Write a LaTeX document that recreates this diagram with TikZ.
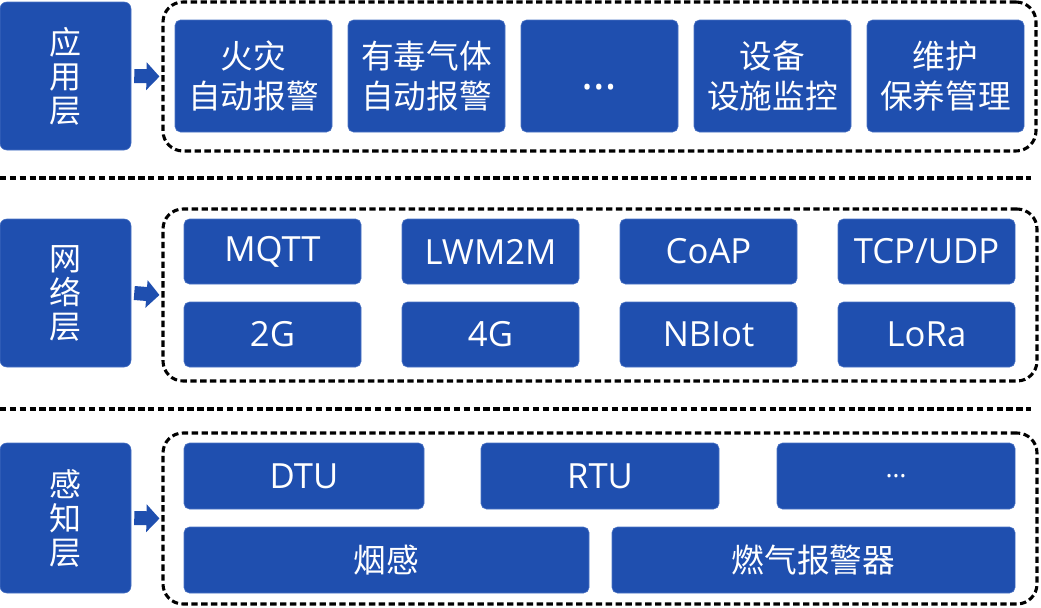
\documentclass[tikz,border=0pt]{standalone}
\usepackage{fontspec}
\setmainfont{Open Sans}
\newfontfamily\cjk{Noto Sans CJK SC}
\usetikzlibrary{arrows.meta}
\definecolor{boxblue}{HTML}{1F4FAF}
\definecolor{boxedge}{HTML}{4A73C4}
\newcommand\bx[7]{\node[bluebox,#6,minimum width={(#4-#2)*0.75pt},minimum height={(#5-#3)*0.75pt}] (#1) at ({(#2+#4)/2},{(#3+#5)/2}) {#7};}
\begin{document}
\begin{tikzpicture}[x=0.75pt,y=-0.75pt,
  bluebox/.style={fill=boxblue,draw=boxedge,line width=0.4pt,rounded corners=4pt,text=white,align=center,inner sep=0pt},
  layerbox/.style={rounded corners=5pt,font=\cjk\fontsize{24}{25.5}\selectfont},
  cjkbox/.style={font=\cjk\fontsize{24.5}{30}\selectfont},
  latinbox/.style={font=\fontsize{26}{30}\selectfont},
  container/.style={draw=black,line width=2.3pt,dash pattern=on 4.8pt off 2.6pt,rounded corners=15pt},
  sepline/.style={draw=black,line width=2.3pt,dash pattern=on 4.8pt off 2.6pt},
  flow/.style={draw=boxblue,line width=10.5pt,-{Triangle[length=9.75pt,width=20.25pt]}}]
\useasboundingbox (0,0) rectangle (1041,607);

% layer boxes
\bx{app}{0}{2}{131}{150}{layerbox}{应\\用\\层}
\bx{net}{0}{219}{131}{367}{layerbox}{网\\络\\层}
\bx{sen}{0}{443}{131}{593}{layerbox}{感\\知\\层}

% containers
\bx{appc}{163}{2}{1036}{151}{container,fill=none,draw=black,line width=2.3pt}{}
\bx{netc}{163}{209}{1037}{381}{container,fill=none,draw=black,line width=2.3pt}{}
\bx{senc}{163}{433}{1037}{604}{container,fill=none,draw=black,line width=2.3pt}{}

% separators
\coordinate (s1a) at (0,178); \coordinate (s1b) at (1031,178);
\coordinate (s2a) at (0,409); \coordinate (s2b) at (1031,409);
\draw[sepline] (s1a) -- (s1b);
\draw[sepline] (s2a) -- (s2b);

% arrows
\draw[flow] ([xshift=2.25pt]app.east) -- ([xshift=-1.5pt]appc.west);
\draw[flow] ([xshift=2.25pt]net.east) -- ([xshift=-1.5pt]netc.west);
\draw[flow] ([xshift=2.25pt]sen.east) -- ([xshift=-1.5pt]senc.west);

% application layer
\bx{a1}{175}{20}{332}{132}{cjkbox}{火灾\\自动报警}
\bx{a2}{348}{20}{505}{132}{cjkbox}{有毒气体\\自动报警}
\bx{a3}{521}{20}{678}{132}{font=\fontsize{34}{36}\selectfont}{\smash{\raisebox{-10pt}{…}}}
\bx{a4}{694}{20}{851}{132}{cjkbox}{设备\\设施监控}
\bx{a5}{867}{20}{1024}{132}{cjkbox}{维护\\保养管理}

% network layer
\bx{n1}{184}{219}{361}{284}{latinbox}{MQTT}
\bx{n2}{402}{219}{579}{284}{latinbox}{LWM2M}
\bx{n3}{620}{219}{797}{284}{latinbox}{CoAP}
\bx{n4}{838}{219}{1015}{284}{latinbox}{TCP/UDP}
\bx{n5}{184}{302}{361}{367}{latinbox}{2G}
\bx{n6}{402}{302}{579}{367}{latinbox}{4G}
\bx{n7}{620}{302}{797}{367}{latinbox}{NBIot}
\bx{n8}{838}{302}{1015}{367}{latinbox}{LoRa}

% perception layer
\bx{p1}{184}{443}{424}{509}{latinbox}{DTU}
\bx{p2}{481}{443}{719}{509}{latinbox}{RTU}
\bx{p3}{777}{443}{1015}{509}{font=\fontsize{20}{22}\selectfont}{…}
\bx{p4}{184}{527}{589}{593}{cjkbox}{烟感}
\bx{p5}{612}{527}{1015}{593}{cjkbox}{燃气报警器}
\end{tikzpicture}
\end{document}
